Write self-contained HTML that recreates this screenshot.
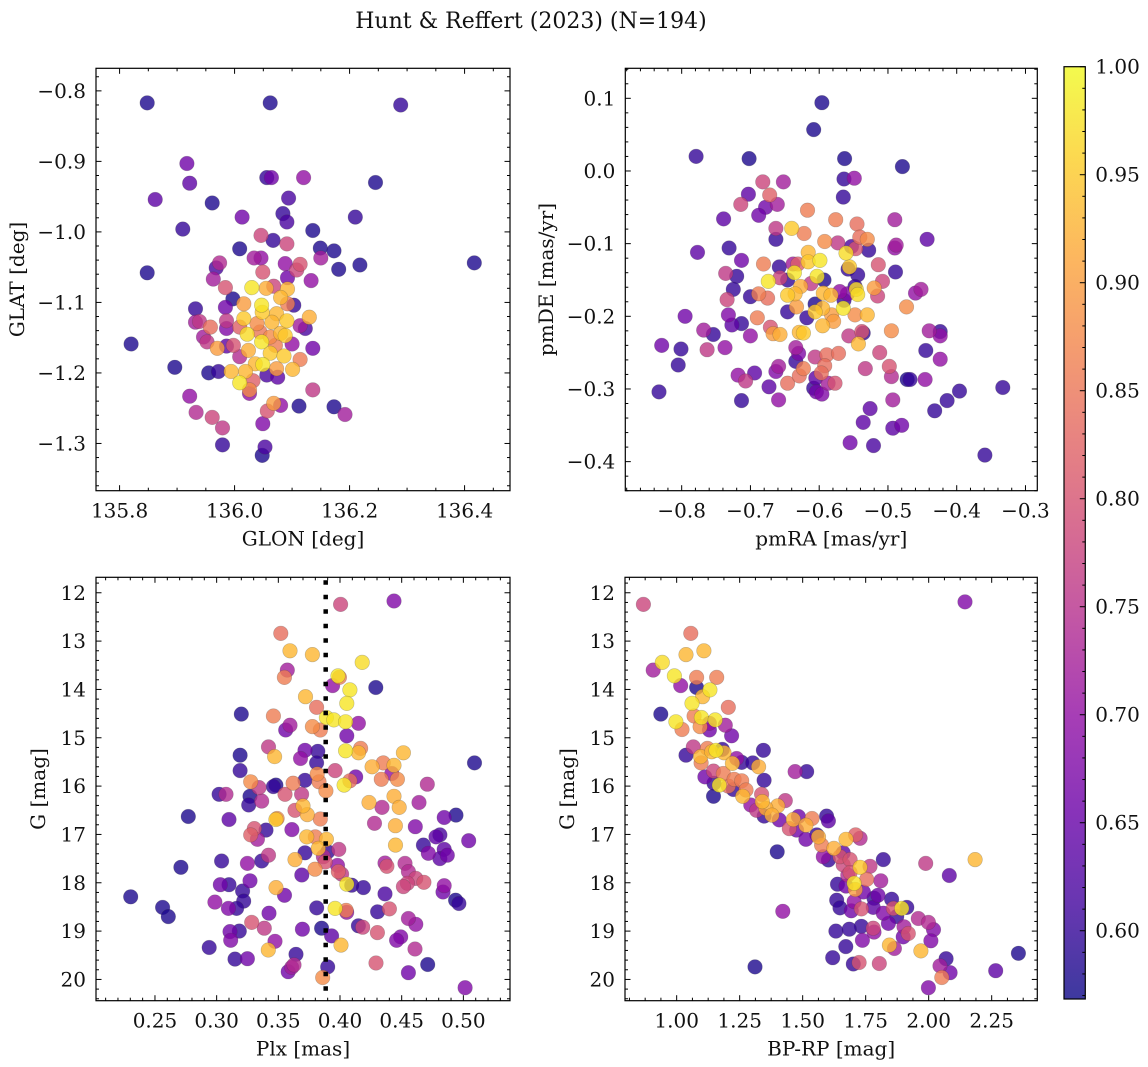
<!DOCTYPE html>
<html><head><meta charset="utf-8"><style>
html,body{margin:0;padding:0;background:#fff;}
svg{display:block;font-family:"DejaVu Serif","Liberation Serif",serif;}
</style></head><body>
<svg id="fig" width="1148" height="1067" viewBox="0 0 1148 1067" xmlns="http://www.w3.org/2000/svg">
<text x="531" y="28" font-size="22" text-anchor="middle" fill="#111">Hunt &amp; Reffert (2023) (N=194)</text>
</svg>
<script>
// ---- Panel 1: GLON / GLAT ----
const glon=[135.848,136.062,136.289,135.917,135.922,135.862,135.961,136.056,136.064,136.12,136.245,136.094,136.013,136.084,136.091,136.210,135.910,136.136,136.046,136.067,136.091,136.009,136.149,136.173,135.848,135.974,135.968,136.034,136.046,136.049,136.088,136.114,136.108,136.150,136.181,136.218,136.417,135.963,136.092,136.133,135.984,136.030,136.055,136.068,136.092,136.080,135.997,135.932,135.984,136.016,136.047,136.048,136.073,136.103,136.092,135.932,135.939,135.986,136.016,136.039,136.065,136.091,136.130,135.958,135.986,136.009,136.114,136.123,136.022,136.044,136.062,136.080,136.088,135.946,135.952,135.820,135.986,135.998,136.024,136.047,136.071,136.100,136.136,135.970,136.009,136.062,136.086,136.114,135.896,136.036,136.049,136.073,136.101,135.955,135.972,135.994,136.019,136.056,136.075,136.009,136.032,136.026,136.026,136.136,135.922,136.068,136.080,136.057,136.112,136.173,136.192,135.933,135.961,135.979,136.049,135.979,136.053,136.048];
const glat=[-0.817,-0.817,-0.820,-0.903,-0.931,-0.954,-0.959,-0.923,-0.923,-0.923,-0.930,-0.952,-0.979,-0.974,-0.986,-0.979,-0.996,-0.998,-1.005,-1.012,-1.017,-1.024,-1.023,-1.027,-1.058,-1.044,-1.051,-1.037,-1.037,-1.057,-1.045,-1.046,-1.054,-1.037,-1.053,-1.047,-1.044,-1.067,-1.065,-1.069,-1.079,-1.079,-1.080,-1.077,-1.081,-1.093,-1.095,-1.109,-1.107,-1.102,-1.104,-1.114,-1.116,-1.104,-1.102,-1.128,-1.127,-1.126,-1.123,-1.130,-1.128,-1.126,-1.121,-1.135,-1.137,-1.135,-1.133,-1.137,-1.145,-1.142,-1.149,-1.144,-1.147,-1.149,-1.156,-1.159,-1.162,-1.161,-1.168,-1.156,-1.161,-1.159,-1.165,-1.165,-1.177,-1.172,-1.176,-1.181,-1.192,-1.187,-1.188,-1.194,-1.195,-1.200,-1.198,-1.198,-1.198,-1.203,-1.206,-1.214,-1.211,-1.224,-1.229,-1.224,-1.233,-1.243,-1.246,-1.254,-1.247,-1.248,-1.259,-1.256,-1.263,-1.278,-1.272,-1.302,-1.305,-1.317];
const prob1=[.58,.58,.6,.66,.64,.64,.58,.6,.66,.70,.58,.62,.66,.6,.62,.6,.6,.58,.78,.6,.78,.58,.58,.58,.58,.74,.62,.72,.70,.8,.7,.8,.78,.72,.58,.58,.58,.72,.66,.7,.8,.98,.92,.78,.93,.93,.58,.6,.66,.9,.98,.95,.93,.6,.86,.72,.76,.76,.95,.88,.93,.95,.92,.84,.68,.82,.72,.62,.97,.85,.88,.93,.95,.72,.76,.58,.64,.8,.92,.98,.86,.7,.66,.9,.74,.95,.95,.86,.58,.93,.98,.9,.93,.58,.6,.93,.93,.62,.64,.98,.82,.88,.7,.76,.7,.9,.7,.8,.58,.58,.72,.74,.78,.76,.68,.6,.62,.58];
// ---- Panel 2: pmRA / pmDE ----
const pmra=[-0.596,-0.608,-0.779,-0.702,-0.563,-0.479,-0.682,-0.652,-0.564,-0.549,-0.703,-0.672,-0.565,-0.714,-0.678,-0.661,-0.688,-0.617,-0.739,-0.490,-0.576,-0.663,-0.640,-0.545,-0.622,-0.663,-0.592,-0.443,-0.573,-0.541,-0.530,-0.553,-0.547,-0.488,-0.490,-0.528,-0.731,-0.777,-0.616,-0.561,-0.713,-0.616,-0.599,-0.681,-0.638,-0.631,-0.514,-0.658,-0.556,-0.558,-0.736,-0.720,-0.636,-0.544,-0.489,-0.657,-0.603,-0.593,-0.674,-0.646,-0.508,-0.725,-0.627,-0.612,-0.548,-0.546,-0.520,-0.460,-0.452,-0.700,-0.688,-0.675,-0.646,-0.635,-0.594,-0.583,-0.570,-0.559,-0.544,-0.515,-0.564,-0.606,-0.734,-0.633,-0.473,-0.565,-0.646,-0.606,-0.595,-0.582,-0.548,-0.530,-0.795,-0.732,-0.690,-0.618,-0.579,-0.595,-0.727,-0.713,-0.768,-0.671,-0.754,-0.700,-0.667,-0.657,-0.629,-0.623,-0.557,-0.538,-0.536,-0.495,-0.440,-0.424,-0.424,-0.829,-0.801,-0.763,-0.737,-0.543,-0.445,-0.634,-0.630,-0.589,-0.572,-0.512,-0.805,-0.424,-0.634,-0.606,-0.592,-0.659,-0.533,-0.498,-0.718,-0.694,-0.663,-0.707,-0.646,-0.629,-0.623,-0.597,-0.605,-0.587,-0.577,-0.495,-0.472,-0.468,-0.446,-0.673,-0.608,-0.604,-0.596,-0.833,-0.333,-0.396,-0.713,-0.659,-0.493,-0.414,-0.432,-0.526,-0.536,-0.493,-0.480,-0.555,-0.521,-0.359];
const pmde=[0.094,0.057,0.020,0.017,0.017,0.006,-0.015,-0.015,-0.011,-0.010,-0.032,-0.033,-0.036,-0.046,-0.050,-0.046,-0.061,-0.054,-0.066,-0.067,-0.067,-0.079,-0.079,-0.073,-0.086,-0.094,-0.097,-0.094,-0.099,-0.091,-0.094,-0.104,-0.107,-0.102,-0.106,-0.109,-0.106,-0.112,-0.112,-0.113,-0.123,-0.125,-0.123,-0.128,-0.128,-0.128,-0.129,-0.132,-0.132,-0.135,-0.141,-0.145,-0.140,-0.143,-0.139,-0.147,-0.145,-0.150,-0.152,-0.150,-0.152,-0.163,-0.159,-0.155,-0.159,-0.163,-0.161,-0.168,-0.163,-0.173,-0.169,-0.175,-0.171,-0.169,-0.168,-0.171,-0.166,-0.169,-0.170,-0.172,-0.178,-0.183,-0.177,-0.187,-0.187,-0.189,-0.194,-0.194,-0.189,-0.198,-0.198,-0.198,-0.200,-0.198,-0.202,-0.202,-0.207,-0.213,-0.212,-0.210,-0.219,-0.215,-0.225,-0.227,-0.224,-0.225,-0.222,-0.223,-0.227,-0.221,-0.223,-0.220,-0.220,-0.221,-0.227,-0.240,-0.245,-0.246,-0.243,-0.238,-0.247,-0.243,-0.251,-0.253,-0.251,-0.250,-0.267,-0.259,-0.262,-0.256,-0.268,-0.269,-0.272,-0.269,-0.281,-0.278,-0.276,-0.289,-0.292,-0.282,-0.272,-0.278,-0.285,-0.292,-0.292,-0.283,-0.287,-0.287,-0.287,-0.297,-0.299,-0.304,-0.307,-0.304,-0.298,-0.303,-0.316,-0.315,-0.315,-0.316,-0.330,-0.327,-0.346,-0.354,-0.350,-0.374,-0.378,-0.391];
const prob2=[.58,.58,.6,.58,.58,.58,.78,.72,.6,.7,.64,.82,.6,.78,.66,.72,.66,.86,.64,.72,.86,.76,.95,.84,.86,.6,.88,.64,.76,.84,.88,.62,.8,.72,.7,.6,.6,.64,.93,.97,.66,.95,.98,.86,.72,.82,.8,.6,.95,.6,.76,.6,.98,.6,.6,.78,.98,.58,.98,.6,.78,.6,.92,.76,.6,.97,.9,.7,.72,.6,.86,.84,.95,.93,.93,.93,.7,.68,.97,.78,.6,.58,.78,.9,.88,.98,.6,.95,.93,.9,.88,.93,.66,.68,.86,.6,.9,.93,.64,.6,.72,.8,.6,.7,.9,.92,.93,.95,.76,.8,.6,.88,.72,.6,.7,.66,.6,.76,.7,.93,.6,.72,.68,.84,.84,.78,.6,.7,.6,.76,.84,.72,.76,.8,.7,.64,.68,.76,.84,.84,.86,.84,.64,.72,.8,.74,.58,.6,.7,.64,.6,.66,.68,.6,.6,.6,.6,.7,.72,.6,.6,.64,.64,.64,.66,.66,.62,.6];
// ---- Panel 3: Plx / G ----
const plx=[0.4438,0.4005,0.352,0.3595,0.3776,0.418,0.3573,0.3549,0.3995,0.3984,0.394,0.429,0.408,0.372,0.4055,0.381,0.320,0.346,0.389,0.395,0.4045,0.4149,0.3595,0.356,0.3776,0.384,0.4055,0.342,0.347,0.3716,0.382,0.4045,0.4167,0.415,0.4514,0.368,0.319,0.381,0.509,0.426,0.435,0.4438,0.396,0.319,0.3815,0.4127,0.442,0.4465,0.4335,0.408,0.3276,0.362,0.383,0.3716,0.4033,0.4708,0.3343,0.346,0.348,0.302,0.3076,0.3554,0.3689,0.3886,0.327,0.3365,0.326,0.4235,0.4438,0.464,0.448,0.3635,0.370,0.434,0.3735,0.277,0.310,0.348,0.349,0.384,0.494,0.4845,0.428,0.4449,0.461,0.340,0.361,0.3305,0.3276,0.333,0.373,0.380,0.389,0.4778,0.481,0.5043,0.4676,0.4845,0.445,0.3824,0.390,0.399,0.3716,0.4716,0.487,0.342,0.3865,0.3635,0.3365,0.304,0.3249,0.388,0.4365,0.438,0.4527,0.481,0.398,0.271,0.3797,0.369,0.3986,0.4013,0.4554,0.4614,0.4546,0.468,0.327,0.303,0.310,0.4095,0.4055,0.419,0.4845,0.4835,0.3481,0.321,0.4514,0.355,0.4365,0.2303,0.3219,0.2986,0.4937,0.4964,0.2562,0.2608,0.3095,0.3162,0.3811,0.396,0.4049,0.4054,0.4305,0.44,0.3424,0.3284,0.4554,0.4614,0.4149,0.4184,0.3386,0.3695,0.3851,0.3108,0.3184,0.4303,0.3932,0.4492,0.4459,0.3114,0.3473,0.294,0.4008,0.3419,0.4608,0.3643,0.3149,0.3249,0.3627,0.3608,0.358,0.4292,0.4711,0.390,0.386,0.4554,0.5014];
const gmag3=[12.17,12.24,12.84,13.2,13.28,13.44,13.6,13.75,13.75,13.72,13.92,13.96,14.01,14.15,14.29,14.37,14.51,14.55,14.58,14.63,14.67,14.70,14.74,14.84,14.77,14.84,14.96,15.19,15.39,15.26,15.28,15.27,15.22,15.31,15.31,15.43,15.36,15.52,15.52,15.60,15.52,15.57,15.68,15.68,15.75,15.81,15.74,15.86,15.86,15.89,15.91,15.94,15.91,15.88,15.98,15.96,16.03,16.01,15.98,16.17,16.17,16.17,16.17,16.1,16.21,16.31,16.39,16.34,16.21,16.34,16.44,16.5,16.41,16.44,16.59,16.63,16.69,16.69,16.67,16.68,16.6,16.65,16.77,16.82,16.84,16.91,16.90,16.88,17.01,17.1,17.05,17.05,17.10,17.05,17.01,17.13,17.22,17.31,17.22,17.29,17.36,17.31,17.38,17.39,17.43,17.43,17.46,17.52,17.55,17.55,17.6,17.57,17.59,17.66,17.6,17.50,17.64,17.68,17.72,17.84,17.77,17.82,17.77,17.91,18.01,17.99,17.96,18.04,18.04,18.05,18.03,18.1,18.06,18.19,18.10,18.17,18.08,18.26,18.23,18.29,18.38,18.4,18.36,18.43,18.51,18.7,18.53,18.53,18.52,18.53,18.57,18.61,18.60,18.54,18.63,18.82,18.74,18.86,18.89,18.92,18.94,18.96,18.94,19.01,19.0,19.03,19.10,19.12,19.19,19.19,19.21,19.34,19.29,19.39,19.37,19.48,19.58,19.57,19.70,19.75,19.84,19.66,19.69,19.74,19.96,19.86,20.17];
const prob3=[.68,.78,.84,.93,.93,.97,.72,.86,.86,.98,.7,.58,.98,.93,.98,.84,.58,.86,.98,.98,.98,.7,.72,.66,.88,.86,.66,.76,.93,.66,.6,.98,.86,.93,.93,.7,.58,.6,.58,.92,.86,.93,.78,.6,.88,.66,.7,.88,.86,.84,.88,.86,.86,.6,.98,.74,.76,.6,.58,.6,.74,.8,.76,.88,.58,.74,.6,.92,.92,.72,.92,.8,.93,.74,.92,.58,.64,.95,.88,.86,.58,.66,.74,.92,.68,.6,.68,.8,.82,.72,.93,.86,.93,.64,.62,.66,.6,.64,.93,.93,.6,.76,.6,.68,.66,.76,.74,.92,.6,.6,.7,.8,.72,.8,.74,.64,.7,.58,.88,.64,.82,.76,.74,.78,.78,.8,.66,.66,.6,.6,.98,.6,.7,.66,.92,.6,.78,.66,.62,.58,.6,.7,.58,.6,.58,.58,.68,.6,.6,.98,.86,.7,.6,.8,.66,.8,.72,.7,.6,.78,.76,.66,.58,.66,.6,.8,.64,.68,.68,.68,.7,.6,.93,.93,.74,.6,.6,.66,.74,.72,.66,.8,.58,.6,.88,.66,.68];
const plxRef=[0.3884];
// ---- Panel 4: BP-RP / G ----
const bprp=[0.868,2.144,1.056,1.037,1.108,0.943,0.907,0.991,1.079,1.159,1.016,1.079,1.132,1.103,1.061,1.205,0.937,1.069,1.098,1.153,0.997,1.130,1.193,1.130,1.093,1.021,1.218,1.066,1.095,1.037,1.122,1.139,1.156,1.188,1.181,1.344,1.238,1.258,1.097,1.302,1.221,1.325,1.146,1.470,1.516,1.185,1.112,1.347,1.228,1.258,1.148,1.169,1.205,1.225,1.275,1.337,1.262,1.146,1.431,1.340,1.401,1.294,1.354,1.317,1.378,1.347,1.483,1.595,1.602,1.537,1.463,1.407,1.513,1.447,1.476,1.556,1.563,1.513,1.672,1.710,1.728,1.575,1.624,1.399,1.661,1.582,1.602,1.648,1.688,1.820,2.184,1.988,1.661,1.728,1.767,1.688,2.082,1.679,1.754,1.810,1.638,1.704,1.672,1.709,1.741,1.799,1.635,1.783,1.853,1.704,1.648,1.780,1.913,1.893,1.733,1.860,1.693,1.820,1.421,1.873,1.959,1.999,1.840,1.733,1.780,1.902,2.019,1.632,1.685,1.919,1.899,1.783,1.737,2.009,1.844,1.864,1.671,1.969,2.356,1.619,2.069,1.724,1.804,1.701,1.311,2.045,2.085,2.266,2.052,1.999];
const gmag4=[12.24,12.19,12.84,13.28,13.2,13.44,13.6,13.72,13.75,13.75,13.92,13.96,14.01,14.15,14.29,14.37,14.51,14.55,14.58,14.63,14.67,14.70,14.74,14.84,14.77,14.83,14.96,15.19,15.39,15.36,15.22,15.29,15.26,15.31,15.24,15.26,15.43,15.51,15.52,15.52,15.53,15.60,15.69,15.70,15.70,15.74,15.81,15.88,15.86,15.89,15.94,15.98,16.0,16.07,16.08,16.17,16.21,16.21,16.30,16.32,16.41,16.39,16.46,16.50,16.6,16.62,16.63,16.62,16.72,16.67,16.69,16.70,16.81,16.88,16.91,17.01,17.05,17.1,17.1,17.01,17.08,17.22,17.29,17.36,17.38,17.46,17.53,17.46,17.52,17.52,17.52,17.60,17.63,17.68,17.66,17.79,17.85,17.84,17.93,17.96,18.03,18.01,18.07,18.14,18.19,18.26,18.36,18.32,18.34,18.39,18.52,18.51,18.51,18.53,18.54,18.53,18.58,18.63,18.59,18.70,18.74,18.82,18.84,18.90,18.94,18.91,18.97,19.0,18.96,19.05,19.12,19.02,19.19,19.2,19.29,19.36,19.32,19.41,19.46,19.55,19.57,19.65,19.67,19.68,19.74,19.72,19.86,19.82,19.96,20.17];
const prob4=[.78,.68,.84,.93,.93,.97,.72,.98,.86,.86,.7,.58,.98,.93,.98,.84,.58,.86,.98,.98,.98,.7,.72,.66,.88,.86,.66,.76,.93,.6,.86,.93,.98,.93,.6,.6,.7,.6,.86,.6,.93,.92,.78,.72,.6,.86,.66,.6,.86,.86,.6,.98,.84,.6,.86,.8,.93,.58,.76,.93,.92,.7,.92,.76,.92,.6,.66,.6,.64,.86,.92,.66,.92,.8,.66,.6,.92,.66,.93,.82,.74,.86,.92,.58,.64,.7,.6,.8,.8,.6,.93,.76,.78,.95,.76,.8,.64,.74,.84,.72,.6,.98,.66,.9,.66,.66,.6,.6,.6,.7,.6,.64,.6,.98,.8,.8,.66,.68,.7,.6,.74,.74,.66,.6,.78,.72,.68,.6,.6,.8,.66,.7,.68,.68,.93,.72,.6,.93,.58,.6,.6,.8,.78,.6,.58,.72,.66,.64,.86,.68];
// ---- Colorbar ----
const cbTicks=[0.60,0.65,0.70,0.75,0.80,0.85,0.90,0.95,1.00];
const cbRange=[0.5684,1.0];

const NS="http://www.w3.org/2000/svg";
const svg=document.getElementById('fig');
function mk(tag,attrs,parent){const e=document.createElementNS(NS,tag);for(const k in attrs)e.setAttribute(k,attrs[k]);(parent||svg).appendChild(e);return e;}
const plasma=[[13,8,135],[65,4,157],[106,0,168],[143,13,164],[177,42,144],[204,71,120],[225,100,98],[242,132,75],[252,166,54],[252,206,37],[240,249,33]];
function cmap(v){let t=(v-cbRange[0])/(cbRange[1]-cbRange[0]);t=Math.max(0,Math.min(1,t));const f=t*10,i=Math.min(9,Math.floor(f)),r=f-i;const a=plasma[i],b=plasma[i+1];return 'rgb('+[0,1,2].map(k=>Math.round(a[k]+(b[k]-a[k])*r)).join(',')+')';}
function fmt(v,d){return (v<0?'\u2212':'')+Math.abs(v).toFixed(d);}
const TF=20, LF=20;

function panel(cfg){
  const g=mk('g',{});
  
  
  const sx=v=>cfg.L+(v-cfg.xd[0])/(cfg.xd[1]-cfg.xd[0])*(cfg.R-cfg.L);
  const sy=v=>cfg.T+(v-cfg.yd[0])/(cfg.yd[1]-cfg.yd[0])*(cfg.B-cfg.T);
  const clip='clip-'+cfg.name;
  const cp=mk('clipPath',{id:clip},g);mk('rect',{x:cfg.L,y:cfg.T,width:cfg.R-cfg.L,height:cfg.B-cfg.T},cp);
  const pg=mk('g',{'clip-path':'url(#'+clip+')'},g);
  const idx=cfg.xs.map((_,i)=>i).sort((a,b)=>cfg.ps[a]-cfg.ps[b]);
  idx.forEach(i=>{
    const c=mk('circle',{cx:sx(cfg.xs[i]).toFixed(1),cy:sy(cfg.ys[i]).toFixed(1),r:7.3,fill:cmap(cfg.ps[i]),'fill-opacity':0.8,stroke:'rgba(60,60,60,0.3)','stroke-width':0.6},pg);
    
    
  });
  if(cfg.vline){cfg.vline.forEach(v=>{
    const l=mk('line',{x1:sx(v),x2:sx(v),y1:cfg.T+3,y2:cfg.B,stroke:'#000','stroke-width':4.5,'stroke-dasharray':'4.5 10'},pg);
    
    
  });}
  const tg=mk('g',{stroke:'#000','stroke-width':1},g);
  function ticks(d,step,ndiv,axis){
    const mstep=step/ndiv;const start=Math.ceil(Math.min(d[0],d[1])/mstep-1e-6);const end=Math.floor(Math.max(d[0],d[1])/mstep+1e-6);
    for(let k=start;k<=end;k++){const v=k*mstep;const major=Math.abs(Math.round(k/ndiv)*ndiv-k)<1e-6;const len=major?5.5:3;
      if(axis==='x'){const x=sx(v);mk('line',{x1:x,x2:x,y1:cfg.B,y2:cfg.B-len},tg);mk('line',{x1:x,x2:x,y1:cfg.T,y2:cfg.T+len},tg);}
      else{const y=sy(v);mk('line',{x1:cfg.L,x2:cfg.L+len,y1:y,y2:y},tg);mk('line',{x1:cfg.R,x2:cfg.R-len,y1:y,y2:y},tg);}
    }
  }
  ticks(cfg.xd,cfg.xstep,cfg.xdiv,'x');ticks(cfg.yd,cfg.ystep,cfg.ydiv,'y');
  const fr=mk('rect',{x:cfg.L,y:cfg.T,width:cfg.R-cfg.L,height:cfg.B-cfg.T,fill:'none',stroke:'#000','stroke-width':1.2},g);
  
  
  cfg.xticks.forEach(v=>{const t=mk('text',{x:sx(v),y:cfg.B+27,'font-size':TF,'text-anchor':'middle',fill:'#111'},g);t.textContent=fmt(v,cfg.xdec);
    
    });
  cfg.yticks.forEach(v=>{const t=mk('text',{x:cfg.L-10,y:sy(v)+7,'font-size':TF,'text-anchor':'end',fill:'#111'},g);t.textContent=fmt(v,cfg.ydec);
    
    });
  const xl=mk('text',{x:(cfg.L+cfg.R)/2,y:cfg.B+55,'font-size':LF,'text-anchor':'middle',fill:'#111'},g);xl.textContent=cfg.xlabel;
  
  
  const yx=cfg.ylx,yy=(cfg.T+cfg.B)/2;
  const yl=mk('text',{x:yx,y:yy,'font-size':LF,'text-anchor':'middle',fill:'#111',transform:'rotate(-90 '+yx+' '+yy+')'},g);yl.textContent=cfg.ylabel;
  
  
}

panel({name:'sky-position-panel',L:96,R:510,T:68.3,B:490.7,xd:[135.759,136.479],yd:[-0.768,-1.367],xs:glon,ys:glat,ps:prob1,
  xstep:0.2,xdiv:4,ystep:0.1,ydiv:5,xticks:[135.8,136.0,136.2,136.4],yticks:[-0.8,-0.9,-1.0,-1.1,-1.2,-1.3],xdec:1,ydec:1,xlabel:'GLON [deg]',ylabel:'GLAT [deg]',ylx:24});
panel({name:'proper-motion-panel',L:625.3,R:1037.3,T:68.3,B:490.7,xd:[-0.882,-0.2828],yd:[0.1413,-0.44],xs:pmra,ys:pmde,ps:prob2,
  xstep:0.1,xdiv:5,ystep:0.1,ydiv:5,xticks:[-0.8,-0.7,-0.6,-0.5,-0.4,-0.3],yticks:[0.1,0.0,-0.1,-0.2,-0.3,-0.4],xdec:1,ydec:1,xlabel:'pmRA [mas/yr]',ylabel:'pmDE [mas/yr]',ylx:553});
panel({name:'parallax-magnitude-panel',L:96,R:510,T:577.3,B:1000.7,xd:[0.2022,0.5378],yd:[11.68,20.44],xs:plx,ys:gmag3,ps:prob3,vline:plxRef,
  xstep:0.05,xdiv:5,ystep:1,ydiv:5,xticks:[0.25,0.30,0.35,0.40,0.45,0.50],yticks:[12,13,14,15,16,17,18,19,20],xdec:2,ydec:0,xlabel:'Plx [mas]',ylabel:'G [mag]',ylx:45});
panel({name:'color-magnitude-panel',L:625,R:1037.3,T:577.3,B:1000.7,xd:[0.795,2.431],yd:[11.68,20.44],xs:bprp,ys:gmag4,ps:prob4,
  xstep:0.25,xdiv:4,ystep:1,ydiv:5,xticks:[1.0,1.25,1.5,1.75,2.0,2.25],yticks:[12,13,14,15,16,17,18,19,20],xdec:2,ydec:0,xlabel:'BP-RP [mag]',ylabel:'G [mag]',ylx:574});

(function(){
  const L=1064,R=1085.3,T=66.7,B=999;
  const cb=mk('g',{});
  
  
  const defs=mk('defs',{},cb);
  const gr=mk('linearGradient',{id:'cbgrad',x1:0,y1:1,x2:0,y2:0},defs);
  for(let i=0;i<=20;i++){const v=cbRange[0]+(cbRange[1]-cbRange[0])*i/20;mk('stop',{offset:i/20,'stop-color':cmap(v),'stop-opacity':0.8},gr);}
  mk('rect',{x:L,y:T,width:R-L,height:B-T,fill:'url(#cbgrad)',stroke:'#000','stroke-width':1.2},cb);
  const sy=v=>B-(v-cbRange[0])/(cbRange[1]-cbRange[0])*(B-T);
  for(let k=57;k<=100;k++){const v=k/100;const y=sy(v);const major=k%5===0;mk('line',{x1:R,x2:R-(major?5.5:3),y1:y,y2:y,stroke:'#000','stroke-width':1},cb);}
  cbTicks.forEach(v=>{const t=mk('text',{x:R+10,y:sy(v)+7,'font-size':TF,fill:'#111'},cb);t.textContent=v.toFixed(2);
    
    });
})();
</script>
</body></html>
